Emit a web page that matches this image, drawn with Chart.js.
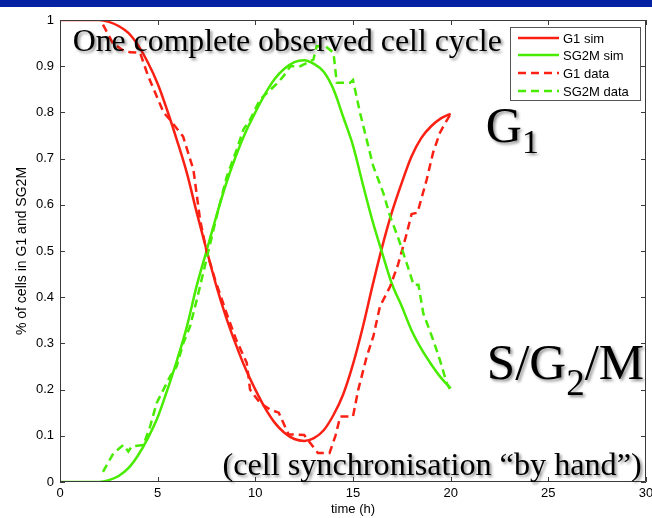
<!DOCTYPE html>
<html>
<head>
<meta charset="utf-8">
<script src="https://cdn.jsdelivr.net/npm/chart.js@4.4.1/dist/chart.umd.min.js"></script>
<style>
  html, body { margin: 0; padding: 0; background: #fff; overflow: hidden; width: 652px; height: 518px; }
  #wrap { position: relative; width: 664px; height: 518px; }
</style>
</head>
<body>
<div id="wrap"><canvas id="c" width="664" height="518"></canvas></div>
<script>
// Simulated fractions on a half-hour grid (h)
const simTime = [0, 0.5, 1, 1.5, 2, 2.5, 3, 3.5, 4, 4.5, 5, 5.5, 6, 6.5, 7, 7.5, 8, 8.5, 9, 9.5,
                 10, 10.5, 11, 11.5, 12, 12.5, 13, 13.5, 14, 14.5, 15, 15.5, 16, 16.5, 17, 17.5, 18, 18.5, 19, 19.5, 20];
const g1Sim = [1, 1, 1, 1, 1, 0.996, 0.987, 0.972, 0.945, 0.908, 0.862, 0.803, 0.738, 0.668, 0.583, 0.503,
               0.425, 0.357, 0.298, 0.245, 0.2, 0.16, 0.128, 0.106, 0.093, 0.089, 0.095, 0.112, 0.145, 0.19,
               0.255, 0.335, 0.425, 0.51, 0.585, 0.648, 0.705, 0.745, 0.77, 0.787, 0.797];
const sg2mSim = [0, 0, 0, 0, 0, 0.004, 0.013, 0.03, 0.058, 0.095, 0.14, 0.2, 0.265, 0.337, 0.425, 0.5,
                 0.575, 0.645, 0.705, 0.757, 0.8, 0.84, 0.873, 0.895, 0.909, 0.913, 0.905, 0.888, 0.85, 0.79,
                 0.728, 0.645, 0.565, 0.495, 0.428, 0.38, 0.328, 0.288, 0.255, 0.226, 0.203];

// Measured fractions
const g1DataTime = [2.2, 2.7, 3.2, 3.6, 4.1, 4.5, 4.95, 5.3, 5.63, 6.3, 6.83, 7.17, 7.5, 7.94, 8.53, 9.0, 9.56, 9.73,
                    10.24, 10.75, 11.2, 11.7, 12.5, 12.8, 13.2, 13.8, 14.1, 14.35, 15.0, 15.27, 15.7, 16.04, 16.38,
                    16.9, 17.3, 17.7, 18.0, 18.3, 18.77, 19.1, 19.45, 19.63, 19.97];
const g1Data = [0.99, 0.95, 0.935, 0.93, 0.929, 0.88, 0.835, 0.8, 0.784, 0.748, 0.676, 0.568, 0.5, 0.438, 0.365, 0.31,
                0.258, 0.2, 0.171, 0.157, 0.15, 0.103, 0.102, 0.085, 0.063, 0.063, 0.1, 0.142, 0.142, 0.2, 0.271,
                0.315, 0.38, 0.423, 0.47, 0.53, 0.58, 0.583, 0.654, 0.713, 0.756, 0.77, 0.795];
const sg2mDataTime = [2.2, 2.73, 3.24, 3.5, 3.67, 4.27, 4.61, 4.95, 5.63, 5.97, 6.31, 6.66, 7.0, 7.25, 7.6, 8.02, 8.53,
                      9.05, 9.39, 9.73, 10.24, 10.75, 11.1, 11.43, 11.8, 12.3, 12.97, 13.14, 13.6, 14.0, 14.17, 14.85,
                      15.0, 15.36, 15.7, 16.04, 16.55, 16.9, 17.3, 17.7, 18.1, 18.35, 18.6, 19.1, 19.45, 19.8, 19.97];
const sg2mData = [0.022, 0.062, 0.08, 0.066, 0.077, 0.08, 0.12, 0.171, 0.228, 0.25, 0.3, 0.337, 0.394, 0.438, 0.5, 0.575,
                  0.66, 0.72, 0.763, 0.784, 0.828, 0.848, 0.862, 0.878, 0.9, 0.9, 0.914, 0.943, 0.943, 0.929, 0.864,
                  0.864, 0.87, 0.799, 0.741, 0.683, 0.626, 0.575, 0.53, 0.48, 0.427, 0.427, 0.365, 0.308, 0.264,
                  0.214, 0.2];

const seriesNames = ['G1 sim', 'SG2M sim', 'G1 data', 'SG2M data'];
const xTicks = [0, 5, 10, 15, 20, 25, 30];
const yTicks = [0, 0.1, 0.2, 0.3, 0.4, 0.5, 0.6, 0.7, 0.8, 0.9, 1];

const RED = 'rgb(250,32,20)';
const GREEN = 'rgb(72,236,0)';
const SANS = '"Liberation Sans", Arial, Helvetica, sans-serif';
const SERIF = '"Liberation Serif", "Times New Roman", Times, serif';

const pts = (xs, ys) => xs.map((x, i) => ({ x, y: ys[i] }));

// Page header strip, white background
const backdrop = {
  id: 'backdrop',
  beforeDraw(chart) {
    const ctx = chart.ctx;
    ctx.save();
    ctx.fillStyle = '#ffffff';
    ctx.fillRect(0, 0, chart.width, chart.height);
    ctx.fillStyle = '#0522a3';
    ctx.fillRect(0, 0, chart.width, 7);
    ctx.restore();
  }
};

// Axes box with inward ticks on all four sides
const frame = {
  id: 'frame',
  afterDatasetsDraw(chart) {
    const { ctx, chartArea: a, scales } = chart;
    const len = 5;
    ctx.save();
    ctx.strokeStyle = '#3a3a3a';
    ctx.lineWidth = 1;
    ctx.beginPath();
    ctx.rect(a.left + 0.5, a.top + 0.5, a.right - a.left - 1, a.bottom - a.top - 1);
    xTicks.forEach(v => {
      const px = Math.round(scales.x.getPixelForValue(v)) + 0.5;
      ctx.moveTo(px, a.bottom); ctx.lineTo(px, a.bottom - len);
      ctx.moveTo(px, a.top); ctx.lineTo(px, a.top + len);
    });
    yTicks.forEach(v => {
      const py = Math.round(scales.y.getPixelForValue(v)) + 0.5;
      ctx.moveTo(a.left, py); ctx.lineTo(a.left + len, py);
      ctx.moveTo(a.right, py); ctx.lineTo(a.right - len, py);
    });
    ctx.stroke();
    ctx.restore();
  }
};

// Slide captions placed in data coordinates
function shadowText(ctx, parts, x, y) {
  ctx.save();
  ctx.fillStyle = '#000';
  ctx.textBaseline = 'alphabetic';
  ctx.shadowColor = 'rgba(0,0,0,0.45)';
  ctx.shadowOffsetX = 2;
  ctx.shadowOffsetY = 2;
  ctx.shadowBlur = 3;
  let cx = x;
  parts.forEach(p => {
    ctx.font = p.size + 'px ' + SERIF;
    ctx.fillText(p.t, cx, y + (p.dy || 0));
    cx += ctx.measureText(p.t).width;
  });
  ctx.restore();
}

const captions = {
  id: 'captions',
  afterDraw(chart) {
    const { ctx, scales: { x, y } } = chart;
    shadowText(ctx, [{ t: 'One complete observed cell cycle', size: 31.8 }],
      x.getPixelForValue(0.65), y.getPixelForValue(0.932));
    shadowText(ctx, [{ t: 'G', size: 50 }, { t: '1', size: 34, dy: 11 }],
      x.getPixelForValue(21.8), y.getPixelForValue(0.737));
    shadowText(ctx, [{ t: 'S/G', size: 51 }, { t: '2', size: 37, dy: 16 }, { t: '/M', size: 51 }],
      x.getPixelForValue(21.85), y.getPixelForValue(0.223));
    shadowText(ctx, [{ t: '(cell synchronisation \u201Cby hand\u201D)', size: 32.2 }],
      x.getPixelForValue(8.32), y.getPixelForValue(0.016));
  }
};

// Boxed legend in the upper right of the axes
const boxLegend = {
  id: 'boxLegend',
  afterDraw(chart) {
    const { ctx, chartArea: a } = chart;
    const w = 131, h = 74;
    const left = a.right - 5 - w, top = a.top + 7;
    ctx.save();
    ctx.fillStyle = '#fff';
    ctx.fillRect(left, top, w, h);
    ctx.strokeStyle = '#555';
    ctx.lineWidth = 1;
    ctx.strokeRect(left + 0.5, top + 0.5, w - 1, h - 1);
    const rows = [11, 28, 46, 64];
    ctx.font = '13px ' + SANS;
    ctx.textBaseline = 'middle';
    chart.data.datasets.forEach((ds, i) => {
      const ry = top + rows[i];
      ctx.strokeStyle = ds.borderColor;
      ctx.lineWidth = ds.borderWidth;
      ctx.setLineDash(ds.borderDash || []);
      ctx.beginPath();
      ctx.moveTo(left + 8, ry);
      ctx.lineTo(left + 49, ry);
      ctx.stroke();
      ctx.setLineDash([]);
      ctx.fillStyle = '#000';
      ctx.fillText(ds.label, left + 53, ry + 1);
    });
    ctx.restore();
  }
};

const lineDs = (label, data, color, dash, order) => ({
  label, data, borderColor: color, backgroundColor: color, borderWidth: 2.5,
  borderDash: dash, showLine: true, pointRadius: 0, fill: false, order,
  cubicInterpolationMode: dash.length ? 'default' : 'monotone', tension: 0
});

new Chart(document.getElementById('c'), {
  type: 'scatter',
  data: {
    datasets: [
      lineDs(seriesNames[0], pts(simTime, g1Sim), RED, [], 3),
      lineDs(seriesNames[1], pts(simTime, sg2mSim), GREEN, [], 2),
      lineDs(seriesNames[2], pts(g1DataTime, g1Data), RED, [8, 5], 1),
      lineDs(seriesNames[3], pts(sg2mDataTime, sg2mData), GREEN, [8, 5], 0)
    ]
  },
  options: {
    responsive: false,
    animation: false,
    devicePixelRatio: 1,
    layout: { padding: { top: 20, right: 18, left: 0, bottom: 0 } },
    plugins: { legend: { display: false }, tooltip: { enabled: false } },
    scales: {
      x: {
        type: 'linear', min: 0, max: 30,
        afterBuildTicks: s => { s.ticks = xTicks.map(v => ({ value: v })); },
        afterFit: s => { s.height = 36; },
        grid: { display: false, drawTicks: false },
        border: { display: false },
        ticks: { color: '#000', font: { family: SANS, size: 13 }, padding: 4, maxRotation: 0 },
        title: { display: true, text: 'time (h)', color: '#000', font: { family: SANS, size: 13 }, padding: { top: 0, bottom: 1 } }
      },
      y: {
        type: 'linear', min: 0, max: 1,
        afterBuildTicks: s => { s.ticks = yTicks.map(v => ({ value: v })); },
        afterFit: s => { s.width = 60; },
        grid: { display: false, drawTicks: false },
        border: { display: false },
        ticks: { color: '#000', font: { family: SANS, size: 13 }, padding: 6,
                 callback: v => String(Number(v.toFixed(1))) },
        title: { display: true, text: '% of cells in G1 and SG2M', color: '#000', font: { family: SANS, size: 14 }, padding: { top: 14, bottom: 0 } }
      }
    }
  },
  plugins: [backdrop, frame, captions, boxLegend]
});
</script>
</body>
</html>
